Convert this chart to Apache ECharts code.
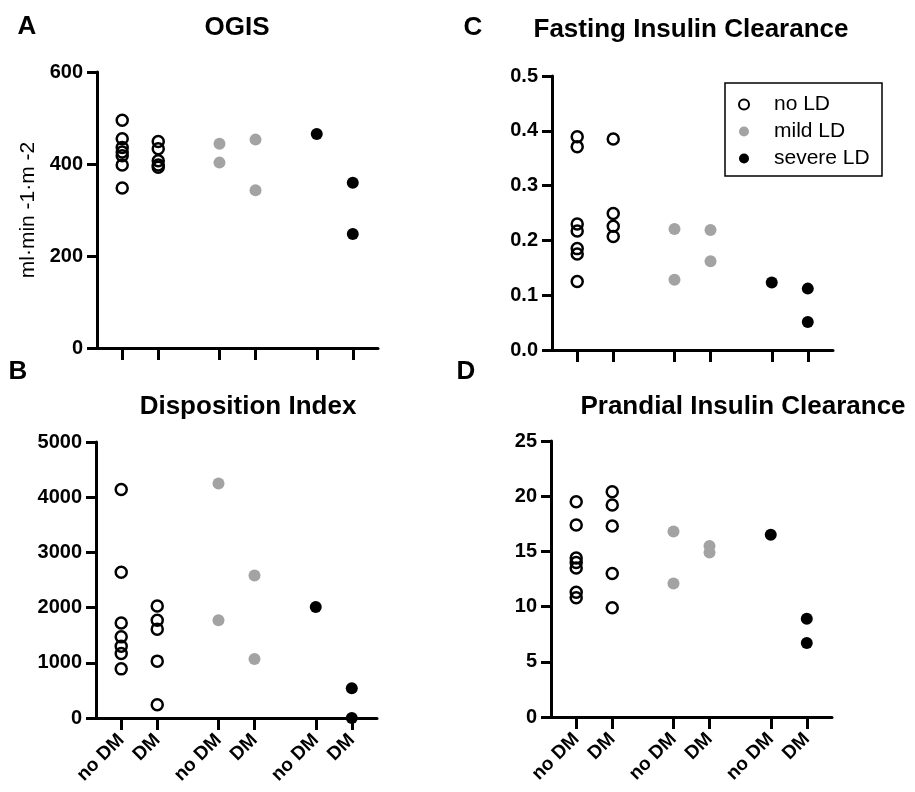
<!DOCTYPE html>
<html>
<head>
<meta charset="utf-8">
<script src="https://cdn.jsdelivr.net/npm/echarts@6/dist/echarts.min.js"></script>
<style>
  html, body { margin: 0; padding: 0; background: #fff; }
  #chart { width: 915px; height: 792px; }
</style>
</head>
<body>
<div id="chart"></div>
<script>
// x categories (two per LD group) and LD groups
var xLabels = ['no DM', 'DM', 'no DM', 'DM', 'no DM', 'DM'];
var ldNames = ['no LD', 'mild LD', 'severe LD'];

// one list per column: noLD/noDM, noLD/DM, mild/noDM, mild/DM, severe/noDM, severe/DM
var ogis = [
  [495, 455, 436, 426, 418, 398, 348],
  [449, 433, 407, 398, 393],
  [444, 403],
  [453, 343],
  [465],
  [359, 248]
];
var disposition = [
  [4140, 2640, 1720, 1470, 1300, 1170, 890],
  [2030, 1770, 1610, 1030, 240],
  [4250, 1770],
  [2580, 1070],
  [2010],
  [540, 0]
];
var fasting = [
  [0.389, 0.371, 0.230, 0.217, 0.185, 0.175, 0.125],
  [0.385, 0.249, 0.226, 0.207],
  [0.221, 0.128],
  [0.219, 0.162],
  [0.123],
  [0.112, 0.051]
];
var prandial = [
  [19.5, 17.4, 14.4, 14.0, 13.5, 11.3, 10.8],
  [20.4, 19.2, 17.3, 13.0, 9.9],
  [16.8, 12.1],
  [15.5, 14.9],
  [16.5],
  [8.9, 6.7]
];

var chart = echarts.init(document.getElementById('chart'));

// where each column sits on the (hidden numeric) x scale
var slotX = [1, 2, 3.7, 4.7, 6.4, 7.4];
var font = '"Liberation Sans", Arial, sans-serif';

var panels = [
  { data: ogis, grid: { left: 97, top: 72, width: 281, height: 276 }, max: 600, interval: 200, xText: false, yName: 'ml·min -1·m -2' },
  { data: disposition, grid: { left: 96, top: 442, width: 281, height: 276 }, max: 5000, interval: 1000, xText: true },
  { data: fasting, grid: { left: 552, top: 76, width: 281, height: 274 }, max: 0.5, interval: 0.1, xText: false, dec: 1 },
  { data: prandial, grid: { left: 551, top: 441, width: 281, height: 276 }, max: 25, interval: 5, xText: true }
];

var styles = [
  { symbolSize: 11, itemStyle: { color: 'rgba(0,0,0,0)', borderColor: '#000', borderWidth: 2.5, opacity: 1 } },
  { symbolSize: 12, itemStyle: { color: '#a3a3a3', opacity: 1 } },
  { symbolSize: 12, itemStyle: { color: '#000', opacity: 1 } }
];

var axisLine = { show: true, lineStyle: { color: '#000', width: 3 } };

var grids = [], xAxes = [], yAxes = [], series = [];
panels.forEach(function (p, i) {
  grids.push(p.grid);
  xAxes.push({
    type: 'value', gridIndex: i, min: 0.3, max: 8.1,
    axisLine: axisLine,
    splitLine: { show: false },
    axisTick: { show: true, customValues: slotX, length: 12, lineStyle: { color: '#000', width: 3 } },
    axisLabel: {
      show: p.xText, customValues: slotX, rotate: 45, margin: 19,
      color: '#000', fontSize: 19, fontWeight: 'bold', fontFamily: font,
      formatter: function (v) { return xLabels[slotX.indexOf(v)]; }
    }
  });
  yAxes.push({
    type: 'value', gridIndex: i, min: 0, max: p.max, interval: p.interval,
    name: p.yName || '', nameLocation: 'middle', nameGap: 58,
    nameTextStyle: { color: '#000', fontSize: 21, fontFamily: font },
    axisLine: axisLine,
    splitLine: { show: false },
    axisTick: { show: true, length: 10, lineStyle: { color: '#000', width: 3 } },
    axisLabel: {
      margin: 14, color: '#000', fontSize: 20, fontWeight: 'bold', fontFamily: font,
      formatter: function (v) { return p.dec ? v.toFixed(p.dec) : String(v); }
    }
  });
  ldNames.forEach(function (name, g) {
    var pts = [];
    [2 * g, 2 * g + 1].forEach(function (c) {
      p.data[c].forEach(function (v) { pts.push([slotX[c], v]); });
    });
    series.push(Object.assign({
      type: 'scatter', name: name, xAxisIndex: i, yAxisIndex: i,
      symbol: 'circle', data: pts, z: 3
    }, styles[g]));
  });
});

function txt(x, y, s, size) {
  return {
    type: 'text', x: x, y: y,
    style: { text: s, fill: '#000', font: 'bold ' + size + 'px ' + font, textAlign: 'center', textVerticalAlign: 'middle' }
  };
}

chart.setOption({
  animation: false,
  grid: grids,
  xAxis: xAxes,
  yAxis: yAxes,
  series: series,
  legend: {
    left: 733, top: 89, orient: 'vertical',
    itemWidth: 50, itemHeight: 10, itemGap: 6,
    textStyle: { color: '#000', fontSize: 21, fontFamily: font },
    data: [
      { name: 'no LD', itemStyle: { color: 'rgba(0,0,0,0)', borderColor: '#000', borderWidth: 2, opacity: 1 } },
      { name: 'mild LD', itemStyle: { color: '#a3a3a3', opacity: 1 } },
      { name: 'severe LD', itemStyle: { color: '#000', opacity: 1 } }
    ]
  },
  graphic: [
    { type: 'rect', shape: { x: 725, y: 83, width: 157, height: 93 }, style: { fill: 'none', stroke: '#000', lineWidth: 1.5 } },
    txt(27, 27, 'A', 26), txt(18, 372, 'B', 26), txt(473, 28, 'C', 26), txt(466, 372, 'D', 26),
    txt(237, 28, 'OGIS', 26),
    txt(691, 30, 'Fasting Insulin Clearance', 26),
    txt(248, 407, 'Disposition Index', 26),
    txt(743, 407, 'Prandial Insulin Clearance', 26)
  ]
});
</script>
</body>
</html>
